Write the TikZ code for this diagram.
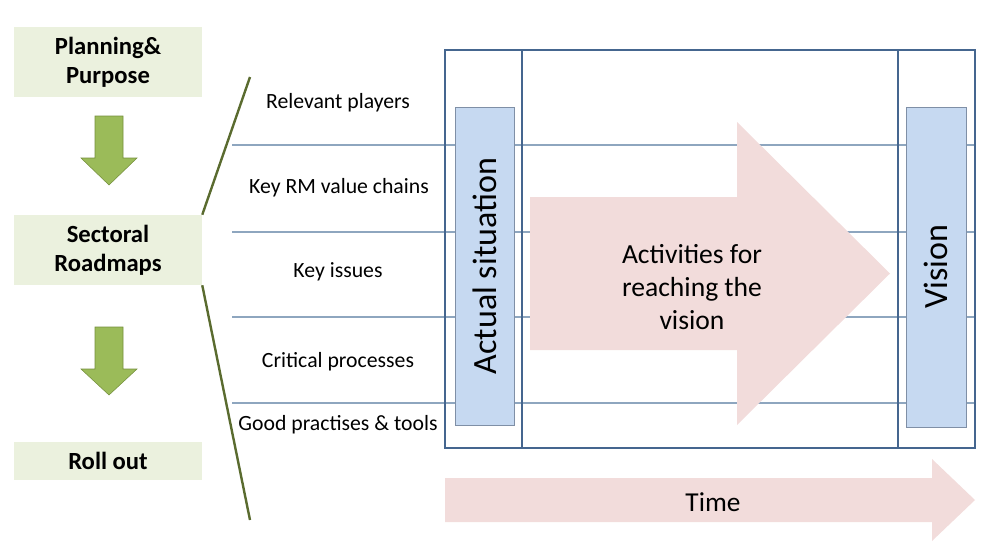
\documentclass[tikz,border=0pt]{standalone}
\usepackage{fontspec}
\setmainfont{Carlito}
\usepackage{tikz}
\usetikzlibrary{shapes,arrows,positioning,calc}

\definecolor{stagegreen}{HTML}{EBF1DE}
\definecolor{arrowgreen}{HTML}{9BBB59}
\definecolor{arrowgreendark}{HTML}{748F3C}
\definecolor{olive}{HTML}{5A6B2F}
\definecolor{rowblue}{HTML}{8EA6BF}
\definecolor{framblue}{HTML}{45668F}
\definecolor{boxblue}{HTML}{C6D9F1}
\definecolor{boxedge}{HTML}{7F8FA6}
\definecolor{pinkarrow}{HTML}{F2DCDB}

\begin{document}
\begin{tikzpicture}[x=0.75pt, y=-0.75pt,
    stage/.style={fill=stagegreen, minimum width=141pt, align=center, font=\fontsize{18.5}{22}\selectfont\bfseries},
    rowlabel/.style={font=\fontsize{16.3}{19}\selectfont},
    statebox/.style={draw=boxedge, fill=boxblue, rotate=90, font=\fontsize{25.5}{30}\selectfont}]
      \useasboundingbox (0,0) rectangle (983,554);
      % left column
      \node[stage, minimum height=52.5pt] (plan) at (108,62) {Planning\&\\Purpose};
      \node[stage, minimum height=52.5pt] (sect) at (108,250) {Sectoral\\Roadmaps};
      \node[stage, minimum height=28.5pt] (roll) at (108,461) {Roll out};
      \fill[arrowgreen, draw=arrowgreendark] (95,116) -- (123,116) -- (123,158) -- (137,158) -- (109,185) -- (81,158) -- (95,158) -- cycle;
      \fill[arrowgreen, draw=arrowgreendark] (95,327) -- (123,327) -- (123,369) -- (137,369) -- (109,395) -- (81,369) -- (95,369) -- cycle;
      \draw[olive, line width=1.8pt] (sect.north east) -- (250,77);
      \draw[olive, line width=1.8pt] (sect.south east) -- (250,520);
      % rows
      \foreach \y in {145,232,317,403} \draw[rowblue, line width=0.9pt] (232,\y) -- (975,\y);
      \node[rowlabel] (players) at (338,103) {Relevant players};
      \node[rowlabel] (chains) at (339,188) {Key RM value chains};
      \node[rowlabel] (issues) at (338,272) {Key issues};
      \node[rowlabel] (process) at (338,362) {Critical processes};
      \node[rowlabel] (tools) at (338,425) {Good practises \& tools};
      % roadmap
      \fill[pinkarrow] (530,197) -- (737,197) -- (737,122) -- (890,273.5) -- (737,425) -- (737,350) -- (530,350) -- cycle;
      \node[align=center, font=\fontsize{20.7}{25}\selectfont] (act) at (692,287) {Activities for\\reaching the\\vision};
      \node[statebox, minimum width=238.5pt, minimum height=44pt] (actual) at (484.5,266) {Actual situation};
      \node[statebox, minimum width=240pt, minimum height=45pt] (vision) at (936,267) {Vision};
      \draw[framblue, line width=1.8pt] (445,50) rectangle (975,448);
      \draw[framblue, line width=1.8pt] (522,50) -- (522,448);
      \draw[framblue, line width=1.8pt] (898,50) -- (898,448);
      % time
      \fill[pinkarrow] (445,478) -- (932,478) -- (932,459) -- (975,500) -- (932,541) -- (932,522) -- (445,522) -- cycle;
      \node[font=\fontsize{20.5}{24}\selectfont] (time) at (713,502) {Time};
\end{tikzpicture}
\end{document}
